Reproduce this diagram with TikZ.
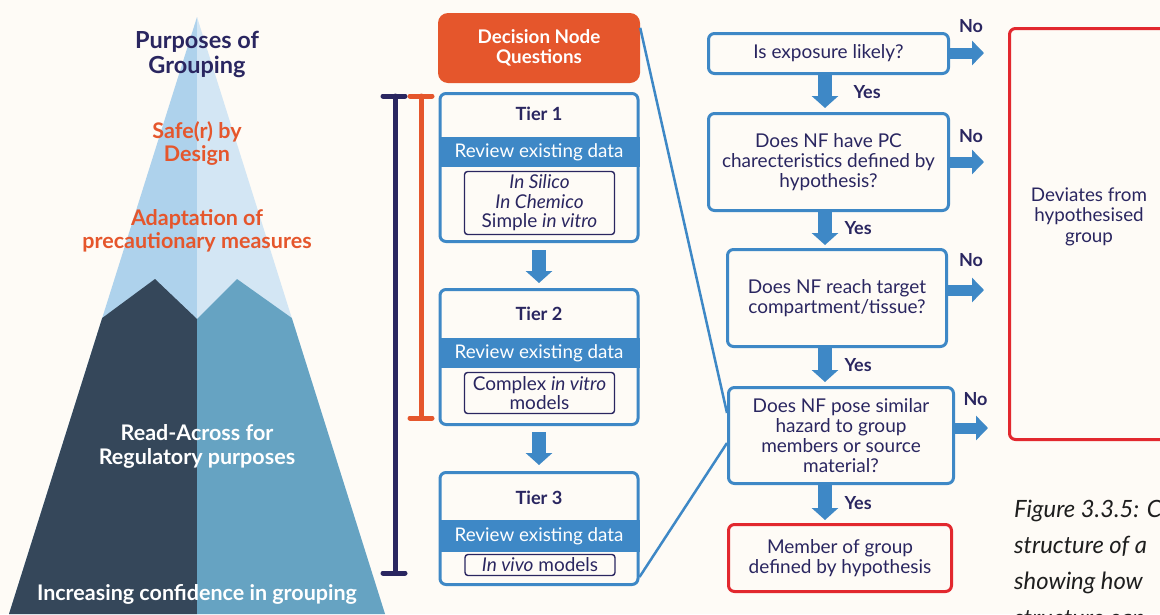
\documentclass[tikz,border=0pt]{standalone}
\usepackage{fontspec}
\setmainfont{Lato}
\usetikzlibrary{arrows.meta}

\definecolor{bg}{HTML}{FEFBF6}
\definecolor{navy}{HTML}{2A2660}
\definecolor{blueM}{HTML}{3E88C6}
\definecolor{orangeD}{HTML}{E5562C}
\definecolor{redB}{HTML}{E2282E}
\definecolor{mlightA}{HTML}{AED2EC}
\definecolor{mlightB}{HTML}{D3E6F4}
\definecolor{mdark}{HTML}{35475A}
\definecolor{mmid}{HTML}{66A3C2}
\definecolor{capt}{HTML}{1E1E1E}

\begin{document}
\begin{tikzpicture}[x=1pt,y=-1pt,
  qbox/.style={draw=blueM, line width=3pt, rounded corners=6pt, fill=bg,
    align=center, text=navy, inner sep=0pt, font=\fontsize{19}{20}\selectfont},
  endbox/.style={qbox, draw=redB},
  tierbox/.style={draw=blueM, line width=3pt, rounded corners=6pt, fill=bg,
    minimum width=198pt, inner sep=0pt},
  band/.style={fill=blueM, text=white, minimum width=201pt, minimum height=30pt,
    inner sep=0pt, font=\fontsize{18.8}{20}\selectfont},
  innerbox/.style={draw=navy, line width=1.4pt, rounded corners=3pt, fill=bg,
    align=center, text=navy, inner sep=0pt, minimum width=150pt,
    font=\fontsize{19}{19.5}\selectfont},
  tierlabel/.style={text=navy, font=\fontsize{18.2}{20}\selectfont\bfseries},
  downarrow/.style={draw=blueM, line width=14pt, -{Triangle[width=26pt,length=12pt]}},
  sidearrow/.style={draw=blueM, line width=11pt, -{Triangle[width=24pt,length=12pt]}},
  answer/.style={text=navy, font=\fontsize{18}{20}\selectfont\bfseries},
  link/.style={draw=blueM, line width=2.5pt},
  peaktext/.style={align=center, font=\fontsize{21.5}{23}\selectfont\bfseries},
  bar/.style={line width=5pt, line cap=round},
]
\clip (0,0) rectangle (1160,614);
\fill[bg] (0,0) rectangle (1160,614);

% ---- mountain of grouping purposes ----
\fill[mlightA] (197,17) -- (9,614) -- (197,614) -- cycle;
\fill[mlightB] (197,17) -- (385,614) -- (197,614) -- cycle;
\fill[mdark] (9,614) -- (102.2,318) -- (155,279) -- (197,319) -- (197,614) -- cycle;
\fill[mmid] (197,319) -- (237,279) -- (291.8,318) -- (385,614) -- (197,614) -- cycle;

\node[peaktext, text=navy, font=\fontsize{23.5}{25}\selectfont\bfseries] (purp) at (197,54) {Purposes of\\Grouping};
\node[peaktext, text=orangeD] (ssbd) at (197,143.5) {Safe(r) by\\Design};
\node[peaktext, text=orangeD] (adapt) at (197,230.5) {Adaptation of\\precautionary measures};
\node[peaktext, text=white, font=\fontsize{21.5}{24}\selectfont\bfseries] (ra) at (197,446) {Read-Across for\\Regulatory purposes};
\node[peaktext, text=white] (conf) at (197,594) {Increasing confidence in grouping};

% ---- tier range brackets ----
\draw[bar, navy] (395,96) -- (395,573);
\draw[bar, navy] (383,96) -- (405,96);
\draw[bar, navy] (383,573) -- (405,573);
\draw[bar, orangeD] (421,96) -- (421,418);
\draw[bar, orangeD] (410,96) -- (432,96);
\draw[bar, orangeD] (410,418) -- (432,418);

% ---- tiered approach ----
\node[fill=orangeD, rounded corners=10pt, minimum width=202pt, minimum height=70pt,
  inner sep=0pt, align=center, text=white, font=\fontsize{18.8}{20}\selectfont\bfseries]
  (dn) at (539,48) {Decision Node\\Questions};

\node[tierbox, minimum height=148pt] (t1) at (539,167.5) {};
\node[tierlabel] (t1l) at (539,114) {Tier 1};
\node[band] (t1b) at (539,152) {Review existing data};
\node[innerbox, minimum height=63pt] (t1i) at (539.5,203)
  {\textit{In Silico}\\\textit{In Chemico}\\Simple \textit{in vitro}};

\node[tierbox, minimum height=135pt] (t2) at (539,357) {};
\node[tierlabel] (t2l) at (539,314) {Tier 2};
\node[band] (t2b) at (539,353) {Review existing data};
\node[innerbox, minimum height=41pt] (t2i) at (539.5,393)
  {Complex \textit{in vitro}\\models};

\node[tierbox, minimum height=112pt] (t3) at (539,528.5) {};
\node[tierlabel] (t3l) at (539,498) {Tier 3};
\node[band, minimum height=32pt] (t3b) at (539,536) {Review existing data};
\node[innerbox, minimum height=21pt] (t3i) at (540,565) {\textit{In vivo} models};

\draw[downarrow, shorten <=7pt, shorten >=5pt] (t1.south) -- (t2.north);
\draw[downarrow, shorten <=6pt, shorten >=6pt] (t2.south) -- (t3.north);

% ---- decision node questions ----
\node[qbox, minimum width=240pt, minimum height=40pt] (q1) at (828.5,53.5) {Is exposure likely?};
\node[qbox, minimum width=240pt, minimum height=97pt] (q2) at (828.5,162)
  {Does NF have PC\\charecteristics defined by\\hypothesis?};
\node[qbox, minimum width=219pt, minimum height=97pt] (q3) at (837,298)
  {Does NF reach target\\compartment/tissue?};
\node[qbox, minimum width=225pt, minimum height=96pt] (q4) at (841,435.5)
  {Does NF pose similar\\hazard to group\\members or source\\material?};
\node[endbox, minimum width=223pt, minimum height=67pt] (mem) at (840,558)
  {Member of group\\defined by hypothesis};
\node[endbox, minimum width=160pt, minimum height=411pt] (dev) at (1089.5,234) {};
\node[align=center, text=navy, font=\fontsize{18.8}{20.5}\selectfont] (devt) at (1089,216.5)
  {Deviates from\\hypothesised\\group};

% callout lines from the tiers to the decision questions
\draw[link] ([yshift=-15pt]dn.north east) -- ([yshift=22.5pt]q4.west);
\draw[link] ([yshift=9pt]t3.south east) -- ([yshift=-7.5pt]q4.west);

% "Yes" path
\coordinate (ycol) at (825,0);
\draw[downarrow, shorten >=4pt] (q1.south -| ycol) -- (q2.north -| ycol);
\draw[downarrow, shorten >=3pt] (q2.south -| ycol) -- (q3.north -| ycol);
\draw[downarrow, shorten >=4pt] (q3.south -| ycol) -- (q4.north -| ycol);
\draw[downarrow, shorten >=3pt] (q4.south -| ycol) -- (mem.north -| ycol);
\node[answer, anchor=west] (y1) at (850,92) {Yes};
\node[answer, anchor=west] (y2) at (841,228) {Yes};
\node[answer, anchor=west] (y3) at (841,365) {Yes};
\node[answer, anchor=west] (y4) at (841,503) {Yes};

% "No" exits
\coordinate (n1) at (984,53);
\coordinate (n2) at (984,162);
\coordinate (n3) at (984,290);
\coordinate (n4) at (988,428);
\draw[sidearrow] (q1.east |- n1) -- (n1);
\draw[sidearrow] (q2.east |- n2) -- (n2);
\draw[sidearrow] (q3.east |- n3) -- (n3);
\draw[sidearrow] (q4.east |- n4) -- (n4);
\node[answer] (no1) at (971,26) {No};
\node[answer] (no2) at (971,136) {No};
\node[answer] (no3) at (971,260) {No};
\node[answer] (no4) at (975.5,399) {No};

% ---- caption ----
\begin{scope}[every node/.style={anchor=base west, inner sep=0pt, text=capt,
    font=\fontsize{23.8}{36}\selectfont\itshape}]
  \node (cap1) at (1014,517) {Figure 3.3.5: C};
  \node (cap2) at (1014,553) {structure of a};
  \node (cap3) at (1014,589.5) {showing how};
  \node (cap4) at (1014,626) {structure can};
\end{scope}
\end{tikzpicture}
\end{document}
